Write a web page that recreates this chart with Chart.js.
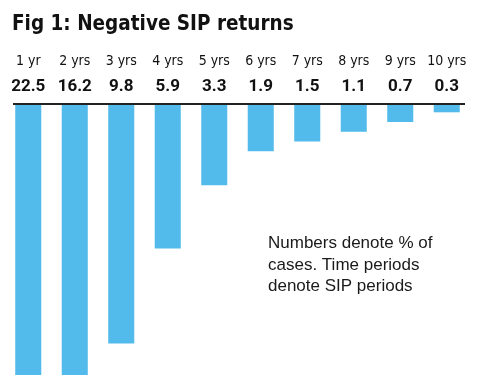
<!DOCTYPE html>
<html>
<head>
<meta charset="utf-8">
<script src="https://cdn.jsdelivr.net/npm/chart.js@4"></script>
<style>
    body { margin: 0; background: #fff; }
    canvas { display: block; }
</style>
</head>
<body>
<canvas id="sipChart" width="480" height="387"></canvas>
<script>
const periods = ['1 yr', '2 yrs', '3 yrs', '4 yrs', '5 yrs', '6 yrs', '7 yrs', '8 yrs', '9 yrs', '10 yrs'];
const negativeShare = [22.5, 16.2, 9.8, 5.9, 3.3, 1.9, 1.5, 1.1, 0.7, 0.3];
const valueLabels = negativeShare.map(v => v.toFixed(1));

const titleText = 'Fig 1: Negative SIP returns';
const noteLines = ['Numbers denote % of', 'cases. Time periods', 'denote SIP periods'];

const narrow = "'DejaVu Sans Condensed', sans-serif";

// title, note and the baseline rule are drawn on top of the chart
const textPlugin = {
    id: 'textPlugin',
    afterDraw(chart) {
        const ctx = chart.ctx;
        const area = chart.chartArea;
        ctx.save();
        ctx.strokeStyle = '#222';
        ctx.lineWidth = 2;
        ctx.beginPath();
        ctx.moveTo(area.left + 8, area.top - 1);
        ctx.lineTo(area.right - 5, area.top - 1);
        ctx.stroke();

        ctx.fillStyle = '#111';
        ctx.textBaseline = 'alphabetic';
        ctx.textAlign = 'left';
        ctx.font = "bold 20.5px " + narrow;
        ctx.fillText(titleText, 12, 30);
        ctx.fillStyle = '#1a1a1a';
        ctx.font = "17px 'Liberation Sans', Arial, sans-serif";
        noteLines.forEach((line, i) => {
            ctx.fillText(line, 268, 248 + i * 21.5);
        });
        ctx.restore();
    }
};

const ctx = document.getElementById('sipChart').getContext('2d');

const chart = new Chart(ctx, {
    type: 'bar',
    data: {
        labels: periods,
        datasets: [{
            data: negativeShare,
            backgroundColor: '#53bbeb',
            borderWidth: 0,
            categoryPercentage: 1,
            barPercentage: 0.56,
            clip: 0
        }]
    },
    options: {
        responsive: false,
        animation: false,
        layout: {
            padding: { top: 50, bottom: 12, left: 5, right: 10 }
        },
        plugins: {
            legend: { display: false },
            tooltip: { enabled: false }
        },
        scales: {
            x: {
                type: 'category',
                position: 'top',
                weight: 2,
                grid: { display: false, drawTicks: false },
                border: { display: false },
                ticks: {
                    padding: 0,
                    color: '#111',
                    maxRotation: 0,
                    autoSkip: false,
                    font: { family: narrow, size: 14, lineHeight: 1 }
                },
                afterFit(scale) { scale.height = 18; }
            },
            xv: {
                type: 'category',
                position: 'top',
                weight: 1,
                labels: valueLabels,
                offset: true,
                grid: { display: false, drawTicks: false },
                border: { display: false },
                ticks: {
                    padding: 10,
                    color: '#111',
                    maxRotation: 0,
                    autoSkip: false,
                    font: { family: 'Roboto, sans-serif', size: 17, weight: 'bold', lineHeight: 1 }
                },
                afterFit(scale) { scale.height = 37; }
            },
            y: {
                display: false,
                reverse: true,
                min: 0,
                max: 11.1
            }
        }
    },
    plugins: [textPlugin]
});
</script>
</body>
</html>
